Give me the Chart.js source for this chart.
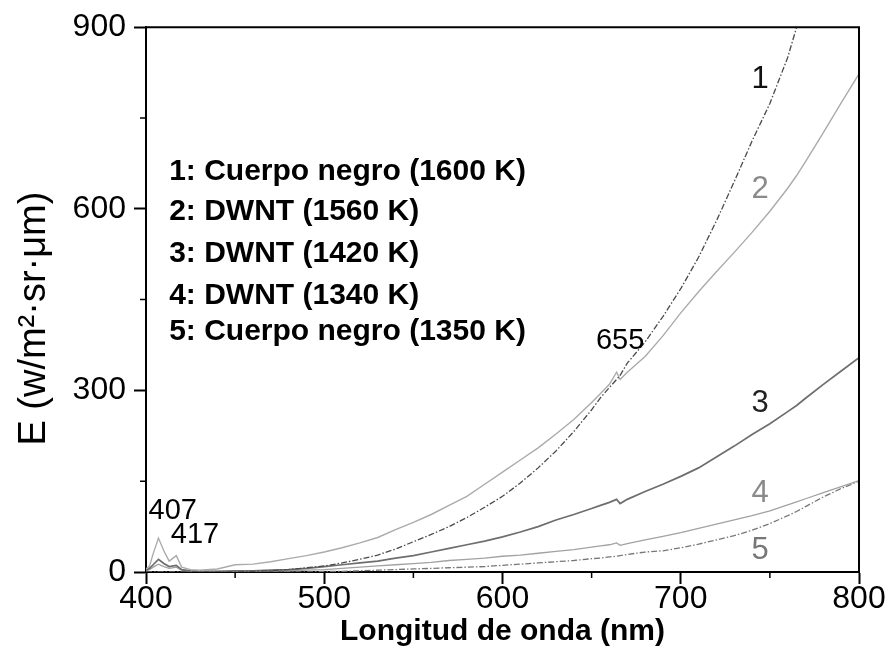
<!DOCTYPE html>
<html>
<head>
<meta charset="utf-8">
<script src="https://cdn.jsdelivr.net/npm/chart.js@4.4.1/dist/chart.umd.min.js"></script>
<style>
  html, body { margin: 0; padding: 0; background: #fff; }
  #wrap { width: 891px; height: 652px; position: relative; }
</style>
</head>
<body>
<div id="wrap"><canvas id="spectrum"></canvas></div>
<script>
// wavelength grid (nm)
const wavelengths = [400, 402, 404, 407, 410, 413, 417, 420, 425, 430, 440, 450, 460, 470, 480, 490,
  500, 510, 520, 530, 540, 550, 560, 570, 580, 590, 600, 610, 620, 630, 640, 650, 655, 660, 664, 666,
  670, 680, 690, 700, 710, 720, 730, 740, 750, 760, 765, 770, 780, 790, 800];

// 1: Cuerpo negro (1600 K)
const bb1600 = [0, 0, 0, 0, 0, 0, 0, 0, 0, 0, 0, 0, 1, 2, 4, 7,
  10, 15, 21, 28, 38, 50, 62, 75, 90, 107, 125, 147, 172, 200, 232, 268, 288, 305, 318, 325,
  345, 380, 422, 468, 520, 580, 645, 712, 774, 850, 900, null, null, null, null];
// 2: DWNT (1560 K)
const dwnt1560 = [5, 10, 30, 56, 35, 18, 27, 8, 4, 3, 5, 12, 13, 17, 22, 27,
  33, 40, 48, 57, 70, 82, 95, 110, 125, 145, 165, 185, 205, 228, 252, 280, 295, 310, 330, 318,
  330, 356, 390, 428, 463, 496, 528, 561, 596, 634, 655, 678, 726, 775, 823];
// 3: DWNT (1420 K)
const dwnt1420 = [3, 6, 12, 21, 14, 9, 11, 4, 2, 1, 1, 2, 2, 3, 4, 6,
  9, 12, 15, 18, 23, 27, 33, 39, 45, 51, 58, 66, 75, 86, 95, 105, 110, 115, 120, 113,
  120, 133, 145, 158, 172, 190, 208, 227, 245, 265, 275, 287, 310, 332, 354];
// 4: DWNT (1340 K)
const dwnt1340 = [2, 4, 8, 13, 9, 6, 8, 3, 1, 1, 1, 1, 1, 2, 2, 3,
  4, 6, 8, 10, 12, 14, 16, 19, 21, 23, 26, 28, 31, 34, 37, 41, 43, 45, 48, 44,
  47, 53, 59, 65, 72, 79, 86, 93, 101, 111, 116, 121, 131, 141, 151];
// 5: Cuerpo negro (1350 K)
const bb1350 = [0, 0, 0, 0, 0, 0, 0, 0, 0, 0, 0, 0, 0, 0, 0, 0,
  1, 1, 2, 3, 4, 5, 6, 7, 8, 9, 11, 13, 15, 17, 19, 22, 23, 25, 26, 27,
  29, 33, 35, 40, 46, 53, 60, 69, 80, 93, 100, 108, 124, 138, 150];

const legendLines = ["1: Cuerpo negro (1600 K)", "2: DWNT (1560 K)", "3: DWNT (1420 K)",
  "4: DWNT (1340 K)", "5: Cuerpo negro (1350 K)"];
const curveTags = ["1", "2", "3", "4", "5"];
const peakTags = ["407", "417", "655"];
const xTicks = [400, 500, 600, 700, 800];
const yTicks = [0, 300, 600, 900];

const FONT = "'Liberation Sans', Arial, sans-serif";

function pts(values) {
  return wavelengths.map((w, i) => ({ x: w, y: values[i] }));
}

// text placed in data coordinates, drawn through the scales
const tagPlugin = {
  id: "tags",
  afterDraw(chart) {
    const { ctx, chartArea: a, scales: { x, y } } = chart;
    ctx.save();
    // frame on top and right
    ctx.strokeStyle = "#000";
    ctx.lineWidth = 2;
    ctx.beginPath();
    ctx.moveTo(a.left, a.top);
    ctx.lineTo(a.right, a.top);
    ctx.lineTo(a.right, a.bottom);
    ctx.stroke();
    // minor ticks
    ctx.lineWidth = 1.5;
    ctx.beginPath();
    [450, 550, 650, 750].forEach(v => {
      const px = x.getPixelForValue(v);
      ctx.moveTo(px, a.bottom); ctx.lineTo(px, a.bottom + 6);
    });
    [150, 450, 750].forEach(v => {
      const py = y.getPixelForValue(v);
      ctx.moveTo(a.left, py); ctx.lineTo(a.left - 6, py);
    });
    ctx.stroke();

    // legend block
    ctx.fillStyle = "#000";
    ctx.font = "bold 30px " + FONT;
    ctx.textAlign = "left";
    ctx.textBaseline = "middle";
    const legY = [661, 595, 526, 457, 397];
    legendLines.forEach((t, i) => ctx.fillText(t, x.getPixelForValue(413), y.getPixelForValue(legY[i])));

    // curve numbers
    ctx.font = "31px " + FONT;
    ctx.textAlign = "center";
    const tagY = [813, 632, 278, 130, 36];
    const tagCol = ["#111", "#8a8a8a", "#222", "#8a8a8a", "#777"];
    curveTags.forEach((t, i) => {
      ctx.fillStyle = tagCol[i];
      ctx.fillText(t, x.getPixelForValue(744.5), y.getPixelForValue(tagY[i]));
    });

    // peak labels
    ctx.fillStyle = "#000";
    ctx.font = "29px " + FONT;
    const peakPos = [[415, 100], [427.5, 61], [666, 382]];
    peakTags.forEach((t, i) => ctx.fillText(t, x.getPixelForValue(peakPos[i][0]), y.getPixelForValue(peakPos[i][1])));
    ctx.restore();
  }
};

const ctx = document.getElementById("spectrum").getContext("2d");
new Chart(ctx, {
  type: "line",
  data: {
    datasets: [
      { label: legendLines[0], data: pts(bb1600), borderColor: "#4a4a4a", borderWidth: 1.3, borderDash: [6, 2, 1.5, 2] },
      { label: legendLines[1], data: pts(dwnt1560), borderColor: "#ababab", borderWidth: 1.4 },
      { label: legendLines[2], data: pts(dwnt1420), borderColor: "#6e6e6e", borderWidth: 1.7 },
      { label: legendLines[3], data: pts(dwnt1340), borderColor: "#a2a2a2", borderWidth: 1.3 },
      { label: legendLines[4], data: pts(bb1350), borderColor: "#777", borderWidth: 1.3, borderDash: [6, 2, 1.5, 2] },
    ],
  },
  options: {
    responsive: true,
    maintainAspectRatio: false,
    animation: false,
    elements: { point: { radius: 0 }, line: { tension: 0, fill: false } },
    layout: { padding: { top: 25, right: 32, left: 0, bottom: 0 } },
    plugins: { legend: { display: false }, tooltip: { enabled: false } },
    scales: {
      x: {
        type: "linear",
        min: 400, max: 800,
        afterBuildTicks: s => { s.ticks = xTicks.map(v => ({ value: v })); },
        afterFit: s => { s.height = 80; },
        border: { color: "#000", width: 2 },
        grid: { drawOnChartArea: false, tickLength: 12, tickColor: "#000", tickWidth: 2 },
        ticks: { color: "#000", font: { family: FONT, size: 32 }, padding: -4, maxRotation: 0 },
        title: { display: true, text: "Longitud de onda (nm)", color: "#000",
          font: { family: FONT, size: 30, weight: "bold" }, padding: { top: 0, bottom: 2 } },
      },
      y: {
        min: 0, max: 900,
        afterBuildTicks: s => { s.ticks = yTicks.map(v => ({ value: v })); },
        afterFit: s => { s.width = 146; },
        border: { color: "#000", width: 2 },
        grid: { drawOnChartArea: false, tickLength: 12, tickColor: "#000", tickWidth: 2 },
        ticks: { color: "#000", font: { family: FONT, size: 32 }, padding: 8 },
        title: { display: true, text: "E (w/m²·sr·μm)\u2003", color: "#000",
          font: { family: FONT, size: 38 }, padding: { top: 12, bottom: 0 } },
      },
    },
  },
  plugins: [tagPlugin],
});
</script>
</body>
</html>
